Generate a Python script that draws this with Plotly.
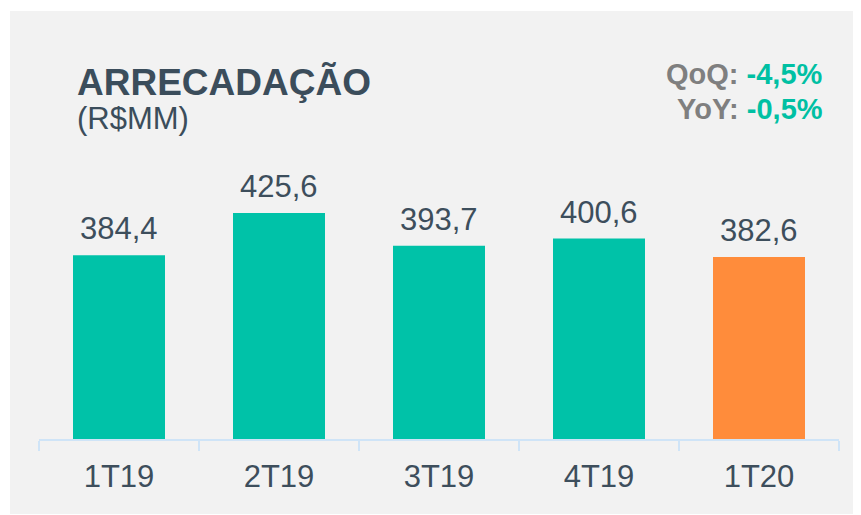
import plotly.graph_objects as go

categories = ["1T19", "2T19", "3T19", "4T19", "1T20"]
values = [384.4, 425.6, 393.7, 400.6, 382.6]
value_labels = ["384,4", "425,6", "393,7", "400,6", "382,6"]
bar_colors = ["#00c2a8", "#00c2a8", "#00c2a8", "#00c2a8", "#ff8c3b"]
title_text = "ARRECADAÇÃO"
subtitle_text = "(R$MM)"
kpi_labels = ["QoQ:", "YoY:"]
kpi_values = ["-4,5%", "-0,5%"]

OFF = 8  # page body margin
W, H = 861 - OFF, 515 - OFF
L, R, T, B = 31, 22, 142, 76
PW, PH = W - L - R, H - T - B

def px(x):
    return (x - OFF - L) / PW

def py(y):
    return (H - B - (y - OFF)) / PH

TXT = "#3d4e5c"
FONT = "Liberation Sans, Arial, sans-serif"

fig = go.Figure()
fig.add_trace(go.Bar(
    x=categories, y=values, marker_color=bar_colors, marker_line_width=0,
    hoverinfo="skip",
))

annotations = []
for c, v, t in zip(categories, values, value_labels):
    annotations.append(dict(x=c, y=v, xref="x", yref="y", text=t, showarrow=False,
                            yanchor="bottom", yshift=7,
                            font=dict(family=FONT, size=31, color=TXT)))

annotations.append(dict(x=px(75), y=py(82), xref="paper", yref="paper", text="<b>" + title_text + "</b>",
                        showarrow=False, xanchor="left", yanchor="middle",
                        font=dict(family=FONT, size=37, color="#3b4d5b")))
annotations.append(dict(x=px(75), y=py(118), xref="paper", yref="paper", text=subtitle_text,
                        showarrow=False, xanchor="left", yanchor="middle",
                        font=dict(family=FONT, size=31, color="#3b4d5b")))
for i, (lab, val) in enumerate(zip(kpi_labels, kpi_values)):
    annotations.append(dict(x=px(825), y=py(74 + 35 * i), xref="paper", yref="paper",
                            text="<b><span style='color:#7f7f7f'>" + lab + "</span> <span style='color:#00c0a3'>" + val + "</span></b>",
                            showarrow=False, xanchor="right", yanchor="middle",
                            font=dict(family=FONT, size=29, color="#7f7f7f")))

fig.update_layout(
    width=W, height=H,
    margin=dict(l=L, r=R, t=T, b=B, pad=0),
    paper_bgcolor="white",
    plot_bgcolor="rgba(0,0,0,0)",
    bargap=0.425,
    showlegend=False,
    annotations=annotations,
    shapes=[dict(type="rect", xref="paper", yref="paper", layer="below",
                 x0=px(10), x1=px(880), y0=py(514), y1=py(11),
                 fillcolor="#f2f2f2", line_width=0)],
    xaxis=dict(showline=True, linecolor="#cfe4f7", linewidth=2, ticks="outside",
               tickson="boundaries", ticklen=10, tickwidth=2, tickcolor="#cfe4f7",
               ticklabelstandoff=9,
               showgrid=False, zeroline=False,
               tickfont=dict(family=FONT, size=31, color=TXT)),
    yaxis=dict(range=[204.7, 204.7 + PH / 1.023], visible=False, showgrid=False, zeroline=False),
)

fig.write_html("out.html")
